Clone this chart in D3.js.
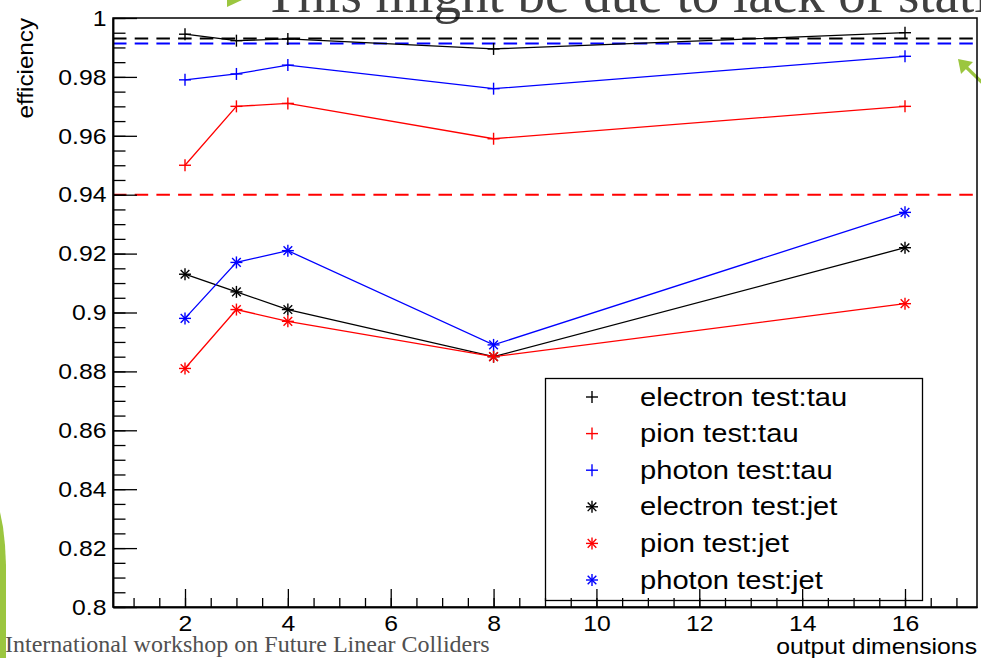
<!DOCTYPE html>
<html>
<head>
<meta charset="utf-8">
<script src="https://cdn.jsdelivr.net/npm/d3@7"></script>
<style>
  html, body { margin: 0; padding: 0; background: #fff; }
  svg { display: block; }
</style>
</head>
<body>
<svg id="chart" width="981" height="658"></svg>
<script>
// ---- data -------------------------------------------------------------
const outputDims = [2, 3, 4, 8, 16];

const electronTau = [0.9945, 0.9923, 0.9929, 0.9895, 0.9950];
const pionTau     = [0.950, 0.970, 0.971, 0.959, 0.970];
const photonTau   = [0.979, 0.981, 0.984, 0.976, 0.987];
const electronJet = [0.913, 0.907, 0.901, 0.885, 0.922];
const pionJet     = [0.881, 0.901, 0.897, 0.885, 0.903];
const photonJet   = [0.898, 0.917, 0.921, 0.889, 0.934];

const seriesNames  = ["electron test:tau", "pion test:tau", "photon test:tau",
                      "electron test:jet", "pion test:jet", "photon test:jet"];
const seriesValues = [electronTau, pionTau, photonTau, electronJet, pionJet, photonJet];
const seriesColors = ["#000000", "#ff0000", "#0000ff", "#000000", "#ff0000", "#0000ff"];
const seriesMarkers = ["plus", "plus", "plus", "star", "star", "star"];

// horizontal reference levels (dashed)
const refLevels = [0.993, 0.9913, 0.94];
const refColors = ["#000000", "#0000ff", "#ff0000"];

const yTickValues = [0.8, 0.82, 0.84, 0.86, 0.88, 0.9, 0.92, 0.94, 0.96, 0.98, 1];
const yTickLabels = ["0.8", "0.82", "0.84", "0.86", "0.88", "0.9", "0.92", "0.94", "0.96", "0.98", "1"];
const xTickValues = [2, 4, 6, 8, 10, 12, 14, 16];
const xTickLabels = ["2", "4", "6", "8", "10", "12", "14", "16"];

const xDomain = [0.6, 17.4];
const yDomain = [0.8, 1.0];

// ---- layout -----------------------------------------------------------
const frame = { left: 113, right: 977, top: 18, bottom: 607 };
const sans = "'Liberation Sans', Arial, Helvetica, sans-serif";
const serif = "'Liberation Serif', 'Times New Roman', Times, serif";
const green = "#9bc63f";
const textStretch = 1.1;
const legendStretch = 1.165;

const svg = d3.select("#chart");
svg.append("rect").attr("width", 981).attr("height", 658).attr("fill", "#fff");

const x = d3.scaleLinear().domain(xDomain).range([frame.left, frame.right]);
const y = d3.scaleLinear().domain(yDomain).range([frame.bottom, frame.top]);

// ---- slide decorations ------------------------------------------------
svg.append("path")
  .attr("d", "M227,0 L242,0 L227,7 Z")
  .attr("fill", green);

svg.append("text")
  .attr("x", 264).attr("y", 12)
  .attr("font-family", serif).attr("font-size", 55)
  .attr("fill", "#404040")
  .text("This might be due to lack of statistics");

svg.append("path")
  .attr("d", "M0,512 L3,527 L5,545 L6,565 L6,658 L0,658 Z")
  .attr("fill", green);

svg.append("line")
  .attr("x1", 966).attr("y1", 67).attr("x2", 992).attr("y2", 92)
  .attr("stroke", green).attr("stroke-width", 3.2);
svg.append("path")
  .attr("d", "M958,59 L973,62 L961,74 Z")
  .attr("fill", green);

svg.append("text")
  .attr("x", 5).attr("y", 652)
  .attr("font-family", serif).attr("font-size", 24)
  .attr("fill", "#505050")
  .text("International workshop on Future Linear Colliders");

// ---- reference dashed lines -------------------------------------------
svg.append("g").selectAll("line")
  .data(refLevels)
  .join("line")
  .attr("x1", frame.left).attr("x2", frame.right)
  .attr("y1", d => y(d)).attr("y2", d => y(d))
  .attr("stroke", (d, i) => refColors[i])
  .attr("stroke-width", 2)
  .attr("stroke-dasharray", "13.5 8.2");

// ---- markers ----------------------------------------------------------
function drawMarker(g, kind, cx, cy, color) {
  const s = 6;
  const lines = [[-s, 0, s, 0], [0, -s, 0, s]];
  if (kind === "star") {
    const d = s * 0.72;
    lines.push([-d, -d, d, d], [-d, d, d, -d]);
  }
  lines.forEach(l => {
    g.append("line")
      .attr("x1", cx + l[0]).attr("y1", cy + l[1])
      .attr("x2", cx + l[2]).attr("y2", cy + l[3])
      .attr("stroke", color).attr("stroke-width", 1.4);
  });
}

// ---- series -----------------------------------------------------------
const line = d3.line().x(d => x(d[0])).y(d => y(d[1]));
const seriesLayer = svg.append("g");
seriesValues.forEach((vals, i) => {
  const pts = outputDims.map((d, j) => [d, vals[j]]);
  const g = seriesLayer.append("g");
  g.append("path")
    .attr("d", line(pts))
    .attr("fill", "none")
    .attr("stroke", seriesColors[i])
    .attr("stroke-width", 1.3);
  pts.forEach(p => drawMarker(g, seriesMarkers[i], x(p[0]), y(p[1]), seriesColors[i]));
});

// ---- legend -----------------------------------------------------------
const legend = svg.append("g");
legend.append("rect")
  .attr("x", 545.5).attr("y", 378.5).attr("width", 377).attr("height", 222)
  .attr("fill", "#fff").attr("stroke", "#000").attr("stroke-width", 1.3);
seriesNames.forEach((name, i) => {
  const ly = 397 + i * 36.6;
  drawMarker(legend, seriesMarkers[i], 592, ly, seriesColors[i]);
  legend.append("text")
    .attr("transform", `translate(640,${ly + 8.5}) scale(${legendStretch},1)`)
    .attr("font-family", sans).attr("font-size", 25)
    .attr("fill", "#000")
    .text(name);
});

// ---- frame and axes ---------------------------------------------------
svg.append("rect")
  .attr("x", frame.left).attr("y", frame.top)
  .attr("width", frame.right - frame.left).attr("height", frame.bottom - frame.top)
  .attr("fill", "none").attr("stroke", "#000").attr("stroke-width", 1.5);

const yMinor = d3.range(0.8, 1.0001, 0.005);
const xMinor = d3.range(1, 17.01, 0.5);

const yMinorAxis = svg.append("g")
  .attr("transform", `translate(${frame.left},0)`)
  .call(d3.axisLeft(y).tickValues(yMinor).tickSize(-12.5).tickSizeOuter(0).tickFormat(""));
const yAxis = svg.append("g")
  .attr("transform", `translate(${frame.left},0)`)
  .call(d3.axisLeft(y).tickValues(yTickValues).tickSize(-24).tickSizeOuter(0)
    .tickPadding(6).tickFormat((d, i) => yTickLabels[i]));

const xMinorAxis = svg.append("g")
  .attr("transform", `translate(0,${frame.bottom})`)
  .call(d3.axisBottom(x).tickValues(xMinor).tickSize(-9).tickSizeOuter(0).tickFormat(""));
const xAxis = svg.append("g")
  .attr("transform", `translate(0,${frame.bottom})`)
  .call(d3.axisBottom(x).tickValues(xTickValues).tickSize(-18).tickSizeOuter(0)
    .tickPadding(8).tickFormat((d, i) => xTickLabels[i]));

[yMinorAxis, yAxis, xMinorAxis, xAxis].forEach(a => {
  a.select(".domain").attr("stroke", "#000").attr("stroke-width", 1.5);
  a.selectAll(".tick line").attr("stroke", "#000").attr("stroke-width", 1.3);
});
yAxis.selectAll(".tick text")
  .attr("font-family", sans).attr("font-size", 22.5).attr("fill", "#000")
  .attr("transform", `scale(${textStretch},1)`);
xAxis.selectAll(".tick text")
  .attr("font-family", sans).attr("font-size", 22.5).attr("fill", "#000")
  .attr("transform", `scale(${textStretch},1)`);

// axis titles
svg.append("text")
  .attr("transform", `translate(977,654) scale(${textStretch},1)`)
  .attr("text-anchor", "end")
  .attr("font-family", sans).attr("font-size", 22.5).attr("fill", "#000")
  .text("output dimensions");

svg.append("text")
  .attr("transform", `translate(33,18) rotate(-90) scale(${textStretch},1)`)
  .attr("text-anchor", "end")
  .attr("font-family", sans).attr("font-size", 22).attr("fill", "#000")
  .text("efficiency");
</script>
</body>
</html>
